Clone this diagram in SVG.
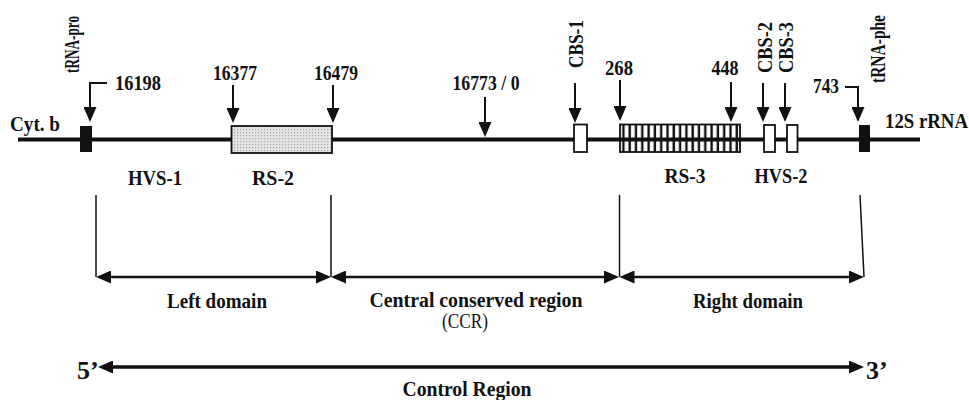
<svg xmlns="http://www.w3.org/2000/svg" width="969" height="400" viewBox="0 0 969 400">
<style>
text{font-family:"Liberation Serif","Times New Roman",serif;font-weight:bold;fill:#111;}
.lbl{font-size:20px;}
.big{font-size:20px;}
.rot{font-size:20px;}
.prime{font-size:26px;}
.arr{stroke:#111;stroke-width:2;fill:none;marker-end:url(#ah);}
.vl{stroke:#111;stroke-width:1.5;fill:none;}
.dom{stroke:#111;stroke-width:2.5;fill:none;marker-start:url(#ah2);marker-end:url(#ah2);}
.box{stroke:#111;stroke-width:1.8;}
</style>
<defs>
<marker id="ah" viewBox="0 0 15 13" markerWidth="15" markerHeight="13" refX="4" refY="6.5" orient="auto" markerUnits="userSpaceOnUse"><path d="M0,0 L15,6.5 L0,13 z" fill="#111"/></marker>
<marker id="ah2" viewBox="0 0 15 13" markerWidth="15" markerHeight="13" refX="4" refY="6.5" orient="auto-start-reverse" markerUnits="userSpaceOnUse"><path d="M0,0 L15,6.5 L0,13 z" fill="#111"/></marker>
<pattern id="stripes" patternUnits="userSpaceOnUse" x="620" y="0" width="6.3" height="10"><rect x="2.2" y="0" width="2.4" height="10" fill="#111"/></pattern>
<pattern id="dots" patternUnits="userSpaceOnUse" width="3" height="3"><rect width="3" height="3" fill="#e4e4e4"/><rect width="1.2" height="1.2" fill="#a8a8a8"/></pattern>
</defs>
<rect width="969" height="400" fill="#fff"/>

<g id="connectors">
<line x1="18" y1="139.5" x2="920" y2="139.5" stroke="#111" stroke-width="4"/>
<path class="arr" d="M107,83 H90 V111"/>
<path class="arr" d="M233,85 V112"/>
<path class="arr" d="M333,85 V112"/>
<path class="arr" d="M485,97 V126"/>
<path class="arr" d="M575,83 V112"/>
<path class="arr" d="M620,80 V110"/>
<path class="arr" d="M731,82 V111"/>
<path class="arr" d="M763,83 V111"/>
<path class="arr" d="M785,83 V111"/>
<path class="arr" d="M845,87 H858 V111"/>
<line class="vl" x1="96" y1="195" x2="96" y2="277"/>
<line class="vl" x1="331" y1="195" x2="331" y2="277"/>
<line class="vl" x1="619.5" y1="195" x2="619.5" y2="277"/>
<line class="vl" x1="860" y1="195" x2="864" y2="277"/>
<line class="dom" x1="107" y1="277" x2="320" y2="277"/>
<line class="dom" x1="342" y1="277" x2="608" y2="277"/>
<line class="dom" x1="630.5" y1="277" x2="853" y2="277"/>
<line class="dom" x1="109" y1="367" x2="853" y2="367" style="stroke-width:3.5"/>
</g>

<g id="cytb"><text class="lbl" x="10" y="131" textLength="50" lengthAdjust="spacingAndGlyphs">Cyt. b</text></g>
<g id="trna-pro">
<rect x="80" y="126" width="12" height="26" fill="#111"/>
<text class="rot" transform="translate(79,73) rotate(-90)" textLength="57" lengthAdjust="spacingAndGlyphs">tRNA-pro</text>
<text class="lbl" x="115" y="90" textLength="46" lengthAdjust="spacingAndGlyphs">16198</text>
</g>
<g id="hvs1"><text class="big" x="155" y="185" text-anchor="middle" textLength="54" lengthAdjust="spacingAndGlyphs">HVS-1</text></g>
<g id="rs2">
<rect class="box" x="231.5" y="126" width="100.5" height="27" fill="url(#dots)"/>
<text class="lbl" x="235" y="80" text-anchor="middle" textLength="44" lengthAdjust="spacingAndGlyphs">16377</text>
<text class="lbl" x="336" y="80" text-anchor="middle" textLength="44" lengthAdjust="spacingAndGlyphs">16479</text>
<text class="big" x="273" y="185" text-anchor="middle" textLength="42" lengthAdjust="spacingAndGlyphs">RS-2</text>
</g>
<g id="origin"><text class="lbl" x="486" y="90" text-anchor="middle" textLength="67" lengthAdjust="spacingAndGlyphs">16773 / 0</text></g>
<g id="cbs1">
<rect class="box" x="574" y="124.5" width="13" height="27.5" fill="#fff"/>
<text class="rot" transform="translate(583,68) rotate(-90)" textLength="48" lengthAdjust="spacingAndGlyphs">CBS-1</text>
</g>
<g id="rs3">
<rect class="box" x="620" y="124.5" width="120" height="27.5" fill="url(#stripes)"/>
<text class="lbl" x="619" y="75" text-anchor="middle" textLength="28" lengthAdjust="spacingAndGlyphs">268</text>
<text class="lbl" x="725" y="75" text-anchor="middle" textLength="27" lengthAdjust="spacingAndGlyphs">448</text>
<text class="big" x="685" y="183" text-anchor="middle" textLength="41" lengthAdjust="spacingAndGlyphs">RS-3</text>
</g>
<g id="cbs2">
<rect class="box" x="764" y="125" width="11" height="27" fill="#fff"/>
<text class="rot" transform="translate(772,73) rotate(-90)" textLength="51" lengthAdjust="spacingAndGlyphs">CBS-2</text>
</g>
<g id="cbs3">
<rect class="box" x="787" y="125" width="10.5" height="27" fill="#fff"/>
<text class="rot" transform="translate(793,73) rotate(-90)" textLength="51" lengthAdjust="spacingAndGlyphs">CBS-3</text>
</g>
<g id="hvs2"><text class="big" x="781" y="183" text-anchor="middle" textLength="53" lengthAdjust="spacingAndGlyphs">HVS-2</text></g>
<g id="trna-phe">
<rect x="859" y="125" width="11" height="27" fill="#111"/>
<text class="rot" transform="translate(885,83) rotate(-90)" textLength="68" lengthAdjust="spacingAndGlyphs">tRNA-phe</text>
<text class="lbl" x="826" y="93" text-anchor="middle" textLength="26" lengthAdjust="spacingAndGlyphs">743</text>
</g>
<g id="rrna"><text class="lbl" x="885" y="128" textLength="83" lengthAdjust="spacingAndGlyphs">12S rRNA</text></g>

<g id="left-domain"><text class="big" x="217" y="308" text-anchor="middle" textLength="100" lengthAdjust="spacingAndGlyphs">Left domain</text></g>
<g id="ccr">
<text class="big" x="476" y="307" text-anchor="middle" textLength="213" lengthAdjust="spacingAndGlyphs">Central conserved region</text>
<text class="lbl" x="465" y="328" text-anchor="middle" textLength="46" lengthAdjust="spacingAndGlyphs" style="font-weight:normal">(CCR)</text>
</g>
<g id="right-domain"><text class="big" x="748" y="308" text-anchor="middle" textLength="110" lengthAdjust="spacingAndGlyphs">Right domain</text></g>
<g id="control-region">
<text class="prime" x="77" y="379">5’</text>
<text class="prime" x="866" y="379">3’</text>
<text class="big" x="467" y="396" text-anchor="middle" textLength="129" lengthAdjust="spacingAndGlyphs">Control Region</text>
</g>
</svg>
